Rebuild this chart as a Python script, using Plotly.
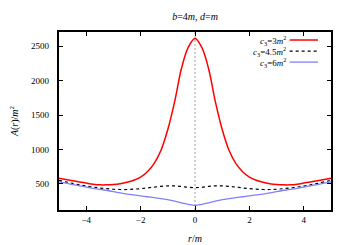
import plotly.graph_objects as go

r_vals = [-5.0, -4.75, -4.5, -4.25, -4.0, -3.75, -3.5, -3.25, -3.0, -2.75, -2.5, -2.25, -2.0,
          -1.75, -1.5, -1.25, -1.0, -0.75, -0.5, -0.25, 0.0, 0.25, 0.5, 0.75, 1.0, 1.25,
          1.5, 1.75, 2.0, 2.25, 2.5, 2.75, 3.0, 3.25, 3.5, 3.75, 4.0, 4.25, 4.5, 4.75, 5.0]

A_c3_3 = [585, 565, 548, 530, 513, 497, 488, 488, 493, 505, 525, 555, 600,
          678, 800, 990, 1290, 1690, 2170, 2480, 2610, 2480, 2170, 1690, 1290, 990,
          800, 678, 600, 555, 525, 505, 493, 488, 488, 497, 513, 530, 548, 565, 585]

A_c3_45 = [553, 530, 508, 488, 470, 455, 442, 432, 424, 420, 420, 425, 432,
           443, 455, 466, 472, 473, 465, 452, 447, 452, 465, 473, 472, 466,
           455, 443, 432, 425, 420, 420, 424, 432, 442, 455, 470, 488, 508, 530, 553]

A_c3_6 = [532, 511, 492, 474, 456, 438, 421, 406, 390, 371, 354, 341, 328,
          315, 302, 288, 272, 250, 228, 205, 188, 205, 228, 250, 272, 288,
          302, 315, 328, 341, 354, 371, 390, 406, 421, 438, 456, 474, 492, 511, 532]

x_ticks = [-4, -2, 0, 2, 4]
x_tick_text = ["\u22124", "\u22122", "0", "2", "4"]
y_ticks = [500, 1000, 1500, 2000, 2500]
y_tick_text = ["500", "1000", "1500", "2000", "2500"]

labels = ["<i>c</i><sub>3</sub>=3<i>m</i><sup>2</sup>",
          "<i>c</i><sub>3</sub>=4.5<i>m</i><sup>2</sup>",
          "<i>c</i><sub>3</sub>=6<i>m</i><sup>2</sup>"]
colors = ["#ff0000", "#000000", "#8080ff"]
dashes = ["solid", "dot", "solid"]
widths = [1.5, 1.2, 1.3]
series = [A_c3_3, A_c3_45, A_c3_6]

font = "Liberation Serif"

fig = go.Figure()
for y, c, d, w, name in zip(series, colors, dashes, widths, labels):
    fig.add_trace(go.Scatter(x=r_vals, y=y, mode="lines", name=name,
                             line=dict(color=c, dash=d, width=w, shape="spline"),
                             showlegend=False))

# zero line
fig.add_shape(type="line", xref="x", yref="paper", x0=0, x1=0, y0=0, y1=1,
              line=dict(color="#888888", width=0.8, dash="2px,2px"), layer="below")

# legend: text on left, sample on right (gnuplot style)
ys = [0.955, 0.893, 0.831]
for lab, c, d, w, yy in zip(labels, colors, dashes, widths, ys):
    fig.add_annotation(text=lab, xref="paper", yref="paper", x=0.842, y=yy,
                       xanchor="right", yanchor="middle", showarrow=False,
                       font=dict(family=font, size=9, color="black"))
    fig.add_shape(type="line", xref="paper", yref="paper", x0=0.848, x1=0.952,
                  y0=yy, y1=yy, line=dict(color=c, dash=d, width=w))

fig.update_layout(
    width=342, height=237,
    margin=dict(l=51, r=19, t=24, b=35, autoexpand=False),
    paper_bgcolor="white", plot_bgcolor="white",
    font=dict(family=font, size=9, color="black"),
    title=dict(text="<i>b</i>=4<i>m</i>, <i>d</i>=<i>m</i>", xref="paper", x=0.5, xanchor="center",
               yref="container", y=0.966, yanchor="middle", font=dict(family=font, size=10)),
)
fig.update_xaxes(range=[-5, 5], tickvals=x_ticks, ticktext=x_tick_text,
                 ticks="inside", ticklen=4, tickwidth=1, tickcolor="black",
                 showline=True, linewidth=2, linecolor="black", mirror="ticks",
                 showgrid=False, zeroline=False,
                 title=dict(text="<i>r</i>/<i>m</i>", standoff=11, font=dict(family=font, size=10)),
                 tickfont=dict(family=font, size=9))
fig.update_yaxes(range=[123, 2703], tickvals=y_ticks, ticktext=[t + "\u2002\u2009" for t in y_tick_text],
                 ticks="inside", ticklen=4, tickwidth=1, tickcolor="black",
                 showline=True, linewidth=2, linecolor="black", mirror="ticks",
                 showgrid=False, zeroline=False,
                 title=dict(text="<i>A</i>(<i>r</i>)/<i>m</i><sup>2</sup>", standoff=12,
                            font=dict(family=font, size=10)),
                 tickfont=dict(family=font, size=9))

fig.write_html("out.html")
